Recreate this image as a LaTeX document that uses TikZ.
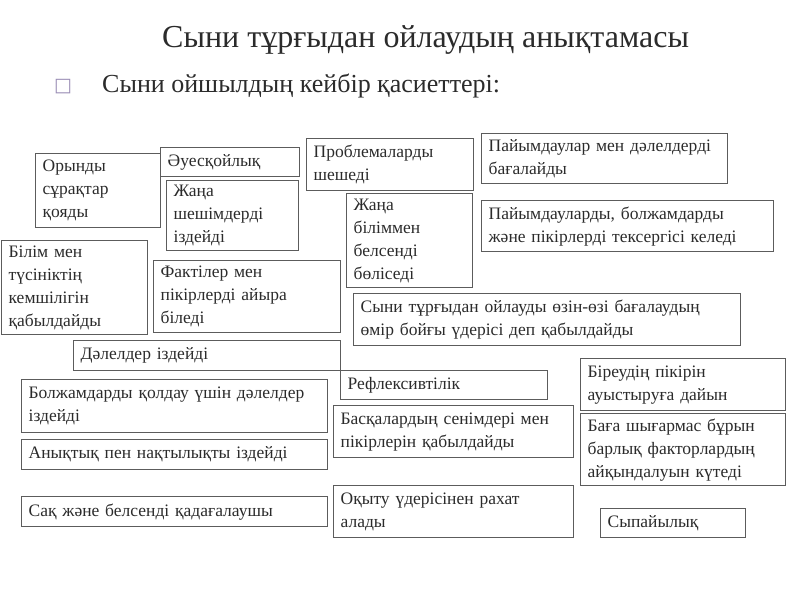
\documentclass[tikz,border=0pt]{standalone}
\usepackage{fontspec}
\setmainfont{Liberation Serif}
\newfontfamily\symfont{DejaVu Sans}
\usepackage{xcolor}
\usetikzlibrary{positioning}
\definecolor{ink}{HTML}{2B2B2B}
\definecolor{frame}{HTML}{5C5C5C}
\definecolor{bulletc}{HTML}{9A8DB5}
\tikzset{
  every node/.style={text=ink},
  prop/.style={draw=frame,line width=1.3pt,anchor=north west,align=left,inner xsep=7pt,inner ysep=0pt,font=\fontsize{17.5}{23}\selectfont},
  titletext/.style={anchor=west,inner sep=0pt,font=\fontsize{32}{36}\selectfont},
  subtext/.style={anchor=west,inner sep=0pt,font=\fontsize{26}{30}\selectfont}
}
\begin{document}
\begin{tikzpicture}[x=1pt,y=-1pt]
  \useasboundingbox (0,0) rectangle (800,600);

  % heading
  \node[titletext] (title) at (162,40) {Сыни тұрғыдан ойлаудың анықтамасы};
  \node[anchor=west,inner sep=0pt,text=bulletc,font=\symfont\fontsize{19}{22}\selectfont] (bullet) at (54,87) {□};
  \node[subtext] (sub) at (102,86) {Сыни ойшылдың кейбір қасиеттері:};

  % qualities
  \node[prop,minimum width=125pt,minimum height=74pt,text width=111pt] (orynd) at (35,153) {Орынды\\сұрақтар\\қояды};
  \node[prop,minimum width=139pt,minimum height=29pt,text width=125pt] (auesk) at (160,147) {Әуесқойлық};
  \node[prop,minimum width=132pt,minimum height=70pt,text width=118pt] (zhsh) at (166,180) {Жаңа\\шешімдерді\\іздейді};
  \node[prop,minimum width=167pt,minimum height=52pt,text width=153pt] (probl) at (306,138) {Проблемаларды\\шешеді};
  \node[prop,minimum width=246pt,minimum height=50pt,text width=232pt] (bagal) at (481,133) {Пайымдаулар мен дәлелдерді\\бағалайды};
  \node[prop,minimum width=126pt,minimum height=94pt,text width=112pt] (bolis) at (346,193) {Жаңа\\біліммен\\белсенді\\бөліседі};
  \node[prop,minimum width=292pt,minimum height=51pt,text width=278pt] (tekser) at (481,200) {Пайымдауларды, болжамдарды\\және пікірлерді тексергісі келеді};
  \node[prop,minimum width=146pt,minimum height=94pt,text width=132pt] (kemsh) at (1,240) {Білім мен\\түсініктің\\кемшілігін\\қабылдайды};
  \node[prop,minimum width=187pt,minimum height=72pt,text width=173pt] (fakt) at (153,260) {Фактілер мен\\пікірлерді айыра\\біледі};
  \node[prop,minimum width=387pt,minimum height=52pt,text width=373pt] (omir) at (353,293) {Сыни тұрғыдан ойлауды өзін-өзі бағалаудың\\өмір бойғы үдерісі деп қабылдайды};
  \node[prop,minimum width=267pt,minimum height=30pt,text width=253pt] (dalel) at (73,340) {Дәлелдер іздейді};
  \node[prop,minimum width=207pt,minimum height=29pt,text width=193pt] (refl) at (340,370) {Рефлексивтілік};
  \node[prop,minimum width=205pt,minimum height=52pt,text width=191pt] (bireu) at (580,358) {Біреудің пікірін\\ауыстыруға дайын};
  \node[prop,minimum width=306pt,minimum height=53pt,text width=292pt] (bolzh) at (21,379) {Болжамдарды қолдау үшін дәлелдер\\іздейді};
  \node[prop,minimum width=240pt,minimum height=52pt,text width=226pt] (baska) at (333,405) {Басқалардың сенімдері мен\\пікірлерін қабылдайды};
  \node[prop,minimum width=205pt,minimum height=72pt,text width=191pt] (kuted) at (580,413) {Баға шығармас бұрын\\барлық факторлардың\\айқындалуын күтеді};
  \node[prop,minimum width=306pt,minimum height=30pt,text width=292pt] (anyk) at (21,439) {Анықтық пен нақтылықты іздейді};
  \node[prop,minimum width=240pt,minimum height=52pt,text width=226pt] (okytu) at (333,485) {Оқыту үдерісінен рахат\\алады};
  \node[prop,minimum width=306pt,minimum height=30pt,text width=292pt] (sak) at (21,496) {Сақ және белсенді қадағалаушы};
  \node[prop,minimum width=145pt,minimum height=29pt,text width=131pt] (sypai) at (600,508) {Сыпайылық};
\end{tikzpicture}
\end{document}
